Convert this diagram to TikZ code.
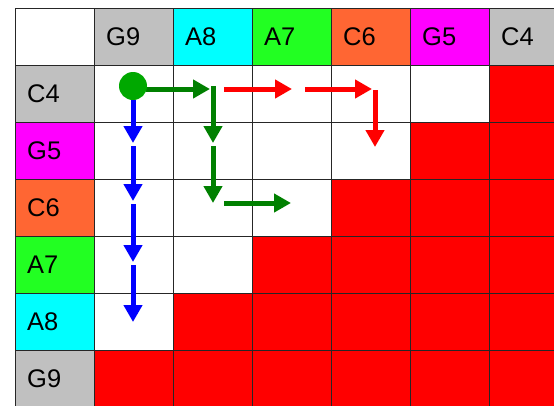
\documentclass[tikz,border=0pt]{standalone}
\usepackage{fontspec}
\setmainfont{Liberation Sans}
\usetikzlibrary{arrows.meta}
\definecolor{cgray}{RGB}{192,192,192}
\definecolor{ccyan}{RGB}{0,255,255}
\definecolor{cgreen}{RGB}{34,255,34}
\definecolor{corange}{RGB}{255,102,51}
\definecolor{cmag}{RGB}{255,0,255}
\definecolor{cred}{RGB}{255,0,0}
\definecolor{agreen}{RGB}{0,128,0}
\definecolor{dotgreen}{RGB}{0,168,0}
\definecolor{ablue}{RGB}{0,0,255}
\begin{document}
\begin{tikzpicture}[x=1pt,y=-1pt,
  lbl/.style={anchor=west,font=\fontsize{25.5}{28}\selectfont,inner sep=0pt},
  gridline/.style={draw=black!85,line width=1pt},
  arr/.style={line width=5pt,-{Triangle[length=17pt,width=18pt]}},
  dot/.style={circle,fill=dotgreen,minimum size=28pt,inner sep=0pt}]
\useasboundingbox (0,0) rectangle (554,405);
\begin{scope}
\clip (0,0) rectangle (554,405);
% header row
\foreach \col/\t [count=\i] in {cgray/G9,ccyan/A8,cgreen/A7,corange/C6,cmag/G5,cgray/C4}{
  \fill[\col] ({15+79*\i},8) rectangle ({15+79*(\i+1)},65);
  \node[lbl] (h\i) at ({15+79*\i+12},36.5) {\t};
}
% header column
\foreach \col/\t [count=\i] in {cgray/C4,cmag/G5,corange/C6,cgreen/A7,ccyan/A8,cgray/G9}{
  \fill[\col] (15,{8+57*\i}) rectangle (94,{8+57*(\i+1)});
  \node[lbl] (r\i) at (27,{8+57*\i+28.5}) {\t};
}
% red cells
\foreach \r in {1,...,6}{
  \fill[cred] ({15+79*(7-\r)},{8+57*\r}) rectangle (570,{8+57*(\r+1)});
}
% grid
\foreach \c in {0,...,7}{
  \draw[gridline] ({15+79*\c},8) -- ({15+79*\c},410);
}
\foreach \r in {0,...,7}{
  \draw[gridline] (15,{8+57*\r}) -- (570,{8+57*\r});
}
\end{scope}
% coordinates
\coordinate (b1s) at (133,100); \coordinate (b1e) at (133,143);
\coordinate (b2s) at (133,146); \coordinate (b2e) at (133,201);
\coordinate (b3s) at (133,204); \coordinate (b3e) at (133,262);
\coordinate (b4s) at (133,265); \coordinate (b4e) at (133,322);
\coordinate (g1s) at (146,89);  \coordinate (g1e) at (210,89);
\coordinate (g2s) at (213,86);  \coordinate (g2e) at (213,143);
\coordinate (g3s) at (213,146); \coordinate (g3e) at (213,203);
\coordinate (g4s) at (224,203); \coordinate (g4e) at (291,203);
\coordinate (r1s) at (224,89);  \coordinate (r1e) at (292,89);
\coordinate (r2s) at (305,89);  \coordinate (r2e) at (372,89);
\coordinate (r3s) at (375,90);  \coordinate (r3e) at (375,147);
% arrows
\draw[arr,ablue] (b1s) -- (b1e);
\draw[arr,ablue] (b2s) -- (b2e);
\draw[arr,ablue] (b3s) -- (b3e);
\draw[arr,ablue] (b4s) -- (b4e);
\draw[arr,agreen] (g1s) -- (g1e);
\draw[arr,agreen] (g2s) -- (g2e);
\draw[arr,agreen] (g3s) -- (g3e);
\draw[arr,agreen] (g4s) -- (g4e);
\draw[arr,cred] (r1s) -- (r1e);
\draw[arr,cred] (r2s) -- (r2e);
\draw[arr,cred] (r3s) -- (r3e);
% start dot
\node[dot] (s) at (133,86) {};
\end{tikzpicture}
\end{document}
